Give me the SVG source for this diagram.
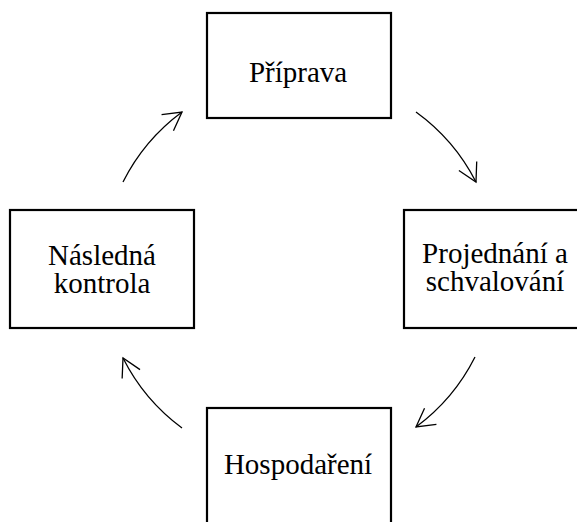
<svg xmlns="http://www.w3.org/2000/svg" width="577" height="522" viewBox="0 0 577 522">
  <style>
    .box { fill: #ffffff; stroke: #000000; stroke-width: 2.2; }
    .label { font-family: 'Liberation Serif', 'Times New Roman', serif; font-size: 29px; fill: #000000; text-anchor: middle; }
    .arc { fill: none; stroke: #000000; stroke-width: 1.3; marker-end: url(#head); }
  </style>
  <defs>
    <!-- open V arrowhead, follows the arc tangent -->
    <marker id="head" markerUnits="userSpaceOnUse" viewBox="-22 -12 24 24" refX="0" refY="0" markerWidth="24" markerHeight="24" orient="auto">
      <path d="M -18 -10 L 0 0 L -18 10" fill="none" stroke="#000000" stroke-width="1.3"/>
    </marker>
  </defs>
  <rect width="577" height="522" fill="#ffffff"/>

  <!-- clockwise cycle arcs, all on one circle around (299, 269) -->
  <g id="connectors">
    <path class="arc" d="M 416 112 A 197 197 0 0 1 476 182"/>
    <path class="arc" d="M 475 357 A 197 197 0 0 1 416 427"/>
    <path class="arc" d="M 182 428 A 197 197 0 0 1 123 358"/>
    <path class="arc" d="M 123 182 A 197 197 0 0 1 182 112"/>
  </g>

  <g id="priprava">
    <rect class="box" x="207" y="13" width="184" height="105"/>
    <text class="label" x="298" y="82">Příprava</text>
  </g>

  <g id="projednani">
    <rect class="box" x="404" y="210" width="184" height="118"/>
    <text class="label" x="495" y="263">Projednání a</text>
    <text class="label" x="495" y="291">schvalování</text>
  </g>

  <g id="hospodareni">
    <rect class="box" x="207" y="408" width="184" height="130"/>
    <text class="label" x="298" y="474">Hospodaření</text>
  </g>

  <g id="kontrola">
    <rect class="box" x="10" y="210" width="184" height="118"/>
    <text class="label" x="102" y="265">Následná</text>
    <text class="label" x="102" y="293">kontrola</text>
  </g>
</svg>
